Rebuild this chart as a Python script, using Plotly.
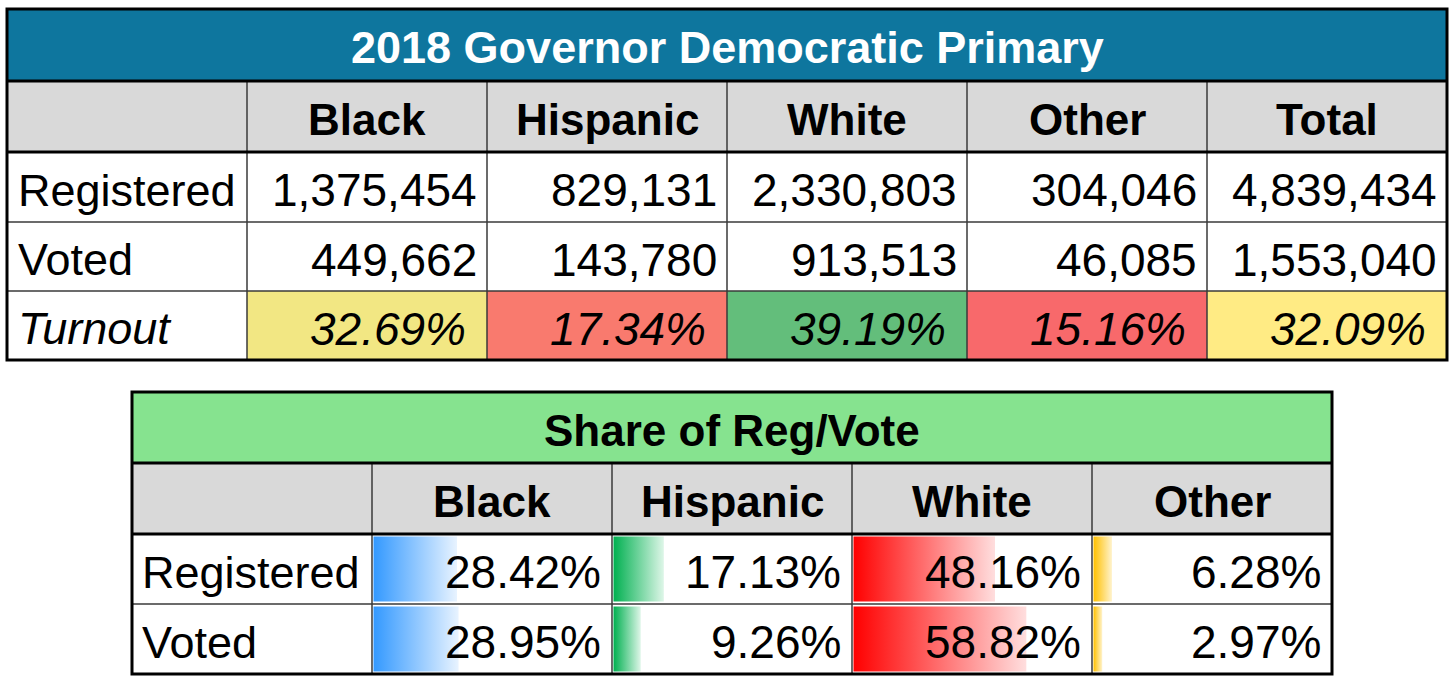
import plotly.graph_objects as go
from plotly.colors import sample_colorscale

# ---- data ----
top_title = "2018 Governor Democratic Primary"
top_groups = ["Black", "Hispanic", "White", "Other", "Total"]
registered = [1375454, 829131, 2330803, 304046, 4839434]
voted = [449662, 143780, 913513, 46085, 1553040]
turnout = [32.69, 17.34, 39.19, 15.16, 32.09]

share_title = "Share of Reg/Vote"
share_groups = ["Black", "Hispanic", "White", "Other"]
share_registered = [28.42, 17.13, 48.16, 6.28]
share_voted = [28.95, 9.26, 58.82, 2.97]

# ---- look ----
W, H = 1456, 693
FONT = "Liberation Sans, Arial, sans-serif"
COL_W = 240
TOP_X0 = 7
TOP_ROWS = [9, 81, 152, 222, 291, 360]
BOT_X0 = 132
BOT_ROWS = [392, 463, 534, 604, 674]
HEADER_GRAY = "#D9D9D9"
TOP_TITLE_BG = "#0E769E"
BOT_TITLE_BG = "#86E38F"
THIN = "#3a3a3a"

# excel 3-colour scale (min / median / max)
turnout_scale = [[0, "rgb(248,105,107)"], [0.5, "rgb(255,235,132)"], [1, "rgb(99,190,123)"]]
bar_colors = {
    "Black": ("rgb(51,153,255)", "rgb(232,243,255)"),
    "Hispanic": ("rgb(0,176,80)", "rgb(222,246,232)"),
    "White": ("rgb(255,0,0)", "rgb(255,222,222)"),
    "Other": ("rgb(255,192,0)", "rgb(255,243,205)"),
}
BAR_FULL = 81.0  # percent that would fill a whole cell

fig = go.Figure()
shapes = []
annotations = []


def rect(x0, y0, x1, y1, fill):
    shapes.append(dict(type="rect", x0=x0, x1=x1, y0=y0, y1=y1, fillcolor=fill,
                       line=dict(width=0), layer="below"))


def hline(x0, x1, y, width, color):
    shapes.append(dict(type="line", x0=x0, x1=x1, y0=y, y1=y, line=dict(width=width, color=color)))


def vline(x, y0, y1, width, color):
    shapes.append(dict(type="line", x0=x, x1=x, y0=y0, y1=y1, line=dict(width=width, color=color)))


def text(x, y, s, anchor, size=46, bold=False, italic=False, color="black"):
    if bold:
        s = "<b>" + s + "</b>"
    if italic:
        s = "<i>" + s + "</i>"
    annotations.append(dict(x=x, y=y, text=s, xref="x", yref="y", showarrow=False,
                            xanchor=anchor, yanchor="middle",
                            font=dict(family=FONT, size=size, color=color)))


def turnout_pos(v):
    lo, hi = min(turnout), max(turnout)
    mid = sorted(turnout)[len(turnout) // 2]
    if v <= mid:
        return 0.5 * (v - lo) / (mid - lo)
    return 0.5 + 0.5 * (v - mid) / (hi - mid)


# ---- top table ----
ncol = len(top_groups) + 1
x_edges = [TOP_X0 + i * COL_W for i in range(ncol + 1)]
r = TOP_ROWS
rect(x_edges[0], r[0], x_edges[-1], r[1], TOP_TITLE_BG)
rect(x_edges[0], r[1], x_edges[-1], r[2], HEADER_GRAY)
for i, v in enumerate(turnout):
    col = sample_colorscale(turnout_scale, [turnout_pos(v)])[0]
    rect(x_edges[i + 1], r[4], x_edges[i + 2], r[5], col)

text((x_edges[0] + x_edges[-1]) / 2, (r[0] + r[1]) / 2 + 2, top_title, "center", 45, bold=True, color="white")
for i, g in enumerate(top_groups):
    text((x_edges[i + 1] + x_edges[i + 2]) / 2, (r[1] + r[2]) / 2 + 3, g, "center", 44, bold=True)

labels = ["Registered", "Voted", "Turnout"]
for k, lab in enumerate(labels):
    yc = (r[k + 2] + r[k + 3]) / 2 + 3
    text(x_edges[0] + 9, yc, lab, "left", 45, italic=(lab == "Turnout"))
for i in range(len(top_groups)):
    xr = x_edges[i + 2]
    text(xr - 8, (r[2] + r[3]) / 2 + 3, f"{registered[i]:,}", "right")
    text(xr - 8, (r[3] + r[4]) / 2 + 3, f"{voted[i]:,}", "right")
    text(xr - 19, (r[4] + r[5]) / 2 + 3, f"{turnout[i]:.2f}%", "right", italic=True)

for x in x_edges[1:-1]:
    vline(x, r[1], r[5], 1.5, THIN)
for y in r[3:5]:
    hline(x_edges[0], x_edges[-1], y, 1.5, THIN)
hline(x_edges[0], x_edges[-1], r[1], 3, "black")
hline(x_edges[0], x_edges[-1], r[2], 3, "black")
shapes.append(dict(type="rect", x0=x_edges[0], x1=x_edges[-1], y0=r[0], y1=r[-1],
                   line=dict(width=3, color="black")))

# ---- bottom table ----
ncol = len(share_groups) + 1
x_edges = [BOT_X0 + i * COL_W for i in range(ncol + 1)]
r = BOT_ROWS
rect(x_edges[0], r[0], x_edges[-1], r[1], BOT_TITLE_BG)
rect(x_edges[0], r[1], x_edges[-1], r[2], HEADER_GRAY)

# gradient data bars
for k, vals in enumerate([share_registered, share_voted]):
    y0, y1 = r[k + 2] + 2.5, r[k + 3] - 2.5
    for i, g in enumerate(share_groups):
        bx0 = x_edges[i + 1] + 1.5
        bx1 = bx0 + vals[i] / BAR_FULL * (COL_W - 2)
        c0, c1 = bar_colors[g]
        fig.add_trace(go.Scatter(
            x=[bx0, bx1, bx1, bx0, bx0], y=[y0, y0, y1, y1, y0],
            mode="lines", line=dict(width=0), fill="toself",
            fillgradient=dict(type="horizontal", colorscale=[[0, c0], [1, c1]]),
            hoverinfo="skip", showlegend=False))

text((x_edges[0] + x_edges[-1]) / 2, (r[0] + r[1]) / 2 + 3, share_title, "center", 44, bold=True)
for i, g in enumerate(share_groups):
    text((x_edges[i + 1] + x_edges[i + 2]) / 2, (r[1] + r[2]) / 2 + 3, g, "center", 44, bold=True)
for k, lab in enumerate(["Registered", "Voted"]):
    yc = (r[k + 2] + r[k + 3]) / 2 + 3
    text(x_edges[0] + 8, yc, lab, "left", 45)
for i in range(len(share_groups)):
    xr = x_edges[i + 2]
    text(xr - 9, (r[2] + r[3]) / 2 + 3, f"{share_registered[i]:.2f}%", "right")
    text(xr - 9, (r[3] + r[4]) / 2 + 3, f"{share_voted[i]:.2f}%", "right")

for x in x_edges[1:-1]:
    vline(x, r[1], r[4], 1.5, THIN)
hline(x_edges[0], x_edges[-1], r[3], 1.5, THIN)
hline(x_edges[0], x_edges[-1], r[1], 3, "black")
hline(x_edges[0], x_edges[-1], r[2], 3, "black")
shapes.append(dict(type="rect", x0=x_edges[0], x1=x_edges[-1], y0=r[0], y1=r[-1],
                   line=dict(width=3, color="black")))

fig.update_layout(
    width=W, height=H,
    margin=dict(l=0, r=0, t=0, b=0),
    paper_bgcolor="white", plot_bgcolor="white",
    xaxis=dict(range=[0, W], visible=False, fixedrange=True),
    yaxis=dict(range=[H, 0], visible=False, fixedrange=True),
    shapes=shapes, annotations=annotations,
)
# drop the browser's default 8px body margin so the figure sits at the page corner
fig.write_html("out.html", config=dict(displayModeBar=False),
               post_script="document.body.style.margin='0px';")
